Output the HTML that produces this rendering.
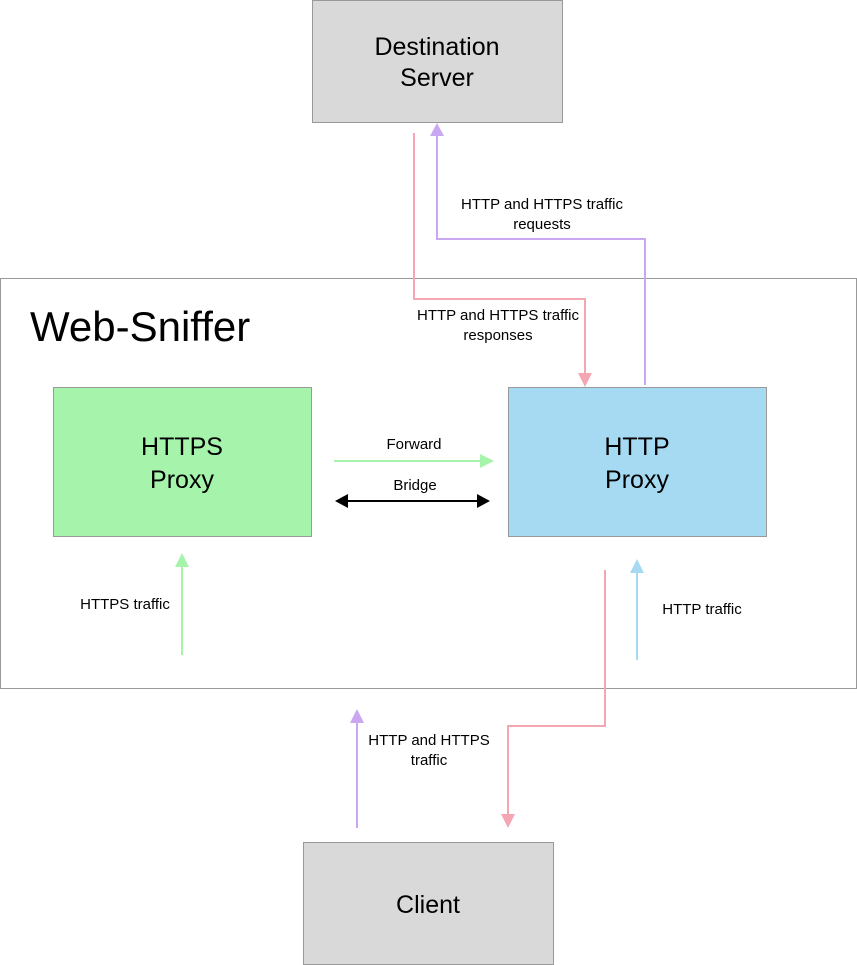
<!DOCTYPE html>
<html><head><meta charset="utf-8"><style>
html,body{margin:0;padding:0;background:#fff;}
svg{display:block;font-family:"Liberation Sans",sans-serif;}
</style></head><body>
<svg width="857" height="965" viewBox="0 0 857 965" xmlns="http://www.w3.org/2000/svg">
<rect x="0.5" y="278.5" width="856" height="410" fill="#fff" stroke="#999"/>
<text x="30" y="341" font-size="42" fill="#000">Web-Sniffer</text>
<rect x="312.5" y="0.5" width="250" height="122" fill="#d9d9d9" stroke="#999"/>
<text x="437" y="55" font-size="25" text-anchor="middle">Destination</text>
<text x="437" y="86" font-size="25" text-anchor="middle">Server</text>
<rect x="53.5" y="387.5" width="258" height="149" fill="#a6f3ac" stroke="#999"/>
<text x="182" y="455" font-size="25" text-anchor="middle">HTTPS</text>
<text x="182" y="488" font-size="25" text-anchor="middle">Proxy</text>
<rect x="508.5" y="387.5" width="258" height="149" fill="#a6daf3" stroke="#999"/>
<text x="637" y="455" font-size="25" text-anchor="middle">HTTP</text>
<text x="637" y="488" font-size="25" text-anchor="middle">Proxy</text>
<rect x="303.5" y="842.5" width="250" height="122" fill="#d9d9d9" stroke="#999"/>
<text x="428" y="913" font-size="25" text-anchor="middle">Client</text>

<g fill="none" stroke-width="2">
<polyline points="414,133 414,299 585,299 585,374" stroke="#f4a7b3"/>
<polyline points="645,385 645,239 437,239 437,136" stroke="#c9a7f3"/>
<line x1="334" y1="461" x2="482" y2="461" stroke="#a6f3ac"/>
<line x1="347" y1="501" x2="477" y2="501" stroke="#000"/>
<line x1="182" y1="655" x2="182" y2="566" stroke="#a6f3ac"/>
<polyline points="605,570 605,726 508,726 508,815" stroke="#f4a7b3"/>
<line x1="637" y1="660" x2="637" y2="572" stroke="#a6daf3"/>
<line x1="357" y1="828" x2="357" y2="722" stroke="#c9a7f3"/>
</g>
<polygon points="578,373 592,373 585,387" fill="#f4a7b3"/>
<polygon points="430,136 444,136 437,123" fill="#c9a7f3"/>
<polygon points="480,454 480,468 494,461" fill="#a6f3ac"/>
<polygon points="477,494 477,508 490,501" fill="#000"/>
<polygon points="348,494 348,508 335,501" fill="#000"/>
<polygon points="175,567 189,567 182,553" fill="#a6f3ac"/>
<polygon points="501,814 515,814 508,828" fill="#f4a7b3"/>
<polygon points="630,573 644,573 637,559" fill="#a6daf3"/>
<polygon points="350,723 364,723 357,709" fill="#c9a7f3"/>

<g font-size="15" text-anchor="middle" fill="#000">
<text x="542" y="209">HTTP and HTTPS traffic</text>
<text x="542" y="229">requests</text>
<text x="498" y="320">HTTP and HTTPS traffic</text>
<text x="498" y="340">responses</text>
<text x="414" y="449">Forward</text>
<text x="415" y="490">Bridge</text>
<text x="125" y="609">HTTPS traffic</text>
<text x="702" y="614">HTTP traffic</text>
<text x="429" y="745">HTTP and HTTPS</text>
<text x="429" y="765">traffic</text>
</g>
</svg>
</body></html>
